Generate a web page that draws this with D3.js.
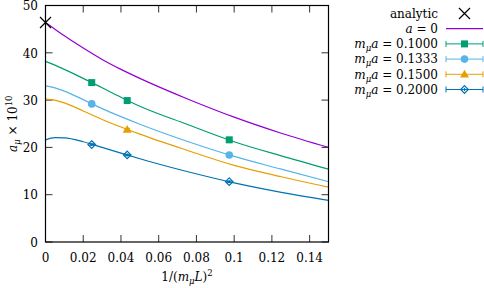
<!DOCTYPE html>
<html>
<head>
<meta charset="utf-8">
<script src="https://cdn.jsdelivr.net/npm/d3@7"></script>
<style>
  body { margin: 0; background: #fff; }
  text { font-family: "DejaVu Serif", "Liberation Serif", serif; }
</style>
</head>
<body>
<div id="chart"></div>
<script>
// curves, sampled along 1/(m_mu L)^2
const curveX = [0, 0.005, 0.01, 0.02, 0.03, 0.04, 0.05, 0.075, 0.1, 0.125, 0.15];
const a0 = [46.4, 45.0, 43.6, 41.0, 38.6, 36.5, 34.6, 30.3, 26.4, 23.0, 20.0];
const fit1000 = [38.2, 37.4, 36.5, 34.6, 32.6, 30.6, 28.7, 24.9, 21.2, 18.2, 15.4];
const fit1333 = [33.0, 32.6, 31.9, 30.1, 28.2, 26.5, 24.9, 21.3, 18.1, 15.4, 12.75];
const fit1500 = [30.2, 30.0, 29.4, 27.7, 25.9, 24.3, 22.8, 19.4, 16.2, 13.8, 11.6];
const fit2000 = [21.6, 22.05, 22.0, 21.2, 20.0, 18.8, 17.6, 14.9, 12.5, 10.5, 8.8];

// lattice points
const ptX = [0.0245, 0.0433, 0.0974];
const pt1000 = [33.7, 29.9, 21.6];
const pt1333 = [29.2, null, 18.4];
const pt1500 = [null, 23.8, null];
const pt2000 = [20.6, 18.4, 12.75];
const ptErr = [0.15, 0.15, 0.15];

const analytic = 46.4;
const xTicks = [0, 0.02, 0.04, 0.06, 0.08, 0.1, 0.12, 0.14];
const yTicks = [0, 10, 20, 30, 40, 50];
const labels = ["0.1000", "0.1333", "0.1500", "0.2000"];

const w = 484, h = 288;
const svg = d3.select("#chart").append("svg").attr("width", w).attr("height", h)
  .style("font-family", "'DejaVu Serif', 'Liberation Serif', serif").style("font-size", "12px");

const x = d3.scaleLinear().domain([0, 0.15]).range([45.5, 328.5]);
const y = d3.scaleLinear().domain([0, 50]).range([242, 5.5]);

const series = [
  { fit: fit1000, pts: pt1000, color: "#009e73", shape: "square" },
  { fit: fit1333, pts: pt1333, color: "#56b4e9", shape: "circle" },
  { fit: fit1500, pts: pt1500, color: "#e69f00", shape: "triangle" },
  { fit: fit2000, pts: pt2000, color: "#0072b2", shape: "diamond" }
];

svg.append("clipPath").attr("id", "clip").append("rect")
  .attr("x", x(0)).attr("y", y(50)).attr("width", x(0.15) - x(0)).attr("height", y(0) - y(50));

// ticks on all four sides, pointing inward
const tk = 7;
const tickG = svg.append("g").attr("stroke", "#333").attr("stroke-width", 1);
xTicks.forEach(v => {
  tickG.append("line").attr("x1", x(v)).attr("x2", x(v)).attr("y1", y(0)).attr("y2", y(0) - tk);
  tickG.append("line").attr("x1", x(v)).attr("x2", x(v)).attr("y1", y(50)).attr("y2", y(50) + tk);
});
yTicks.forEach(v => {
  tickG.append("line").attr("x1", x(0)).attr("x2", x(0) + tk).attr("y1", y(v)).attr("y2", y(v));
  tickG.append("line").attr("x1", x(0.15)).attr("x2", x(0.15) - tk).attr("y1", y(v)).attr("y2", y(v));
});

svg.selectAll(".xt").data(xTicks).enter().append("text")
  .attr("x", d => x(d)).attr("y", 262).attr("text-anchor", "middle")
  .text(d => d === 0 ? "0" : String(d));
svg.selectAll(".yt").data(yTicks).enter().append("text")
  .attr("x", 38).attr("y", d => y(d) + 0.5).attr("dy", "0.35em").attr("text-anchor", "end")
  .text(d => d);

const line = d3.line().x(d => x(d[0])).y(d => y(d[1])).curve(d3.curveMonotoneX);
const plot = svg.append("g").attr("clip-path", "url(#clip)");

plot.append("path").datum(curveX.map((v, i) => [v, a0[i]]))
  .attr("d", line).attr("fill", "none").attr("stroke", "#9400d3").attr("stroke-width", 1.2);

function marker(g, shape, color, cx, cy) {
  if (shape === "square") {
    g.append("rect").attr("x", cx - 3.5).attr("y", cy - 3.5).attr("width", 7).attr("height", 7).attr("fill", color);
  } else if (shape === "circle") {
    g.append("circle").attr("cx", cx).attr("cy", cy).attr("r", 3.8).attr("fill", color);
  } else if (shape === "triangle") {
    g.append("path").attr("d", `M${cx},${cy - 4.5}L${cx + 4.5},${cy + 3.2}L${cx - 4.5},${cy + 3.2}Z`).attr("fill", color);
  } else {
    g.append("path").attr("d", `M${cx},${cy - 3.8}L${cx + 3.8},${cy}L${cx},${cy + 3.8}L${cx - 3.8},${cy}Z`)
      .attr("fill", "none").attr("stroke", color).attr("stroke-width", 1.2);
    g.append("path").attr("d", `M${cx - 1.5},${cy}H${cx + 1.5}M${cx},${cy - 1.5}V${cy + 1.5}`)
      .attr("stroke", color).attr("stroke-width", 1);
  }
}

series.forEach(s => {
  plot.append("path").datum(curveX.map((v, i) => [v, s.fit[i]]))
    .attr("d", line).attr("fill", "none").attr("stroke", s.color).attr("stroke-width", 1.2);
  const g = svg.append("g");
  ptX.forEach((v, i) => {
    if (s.pts[i] == null) return;
    const cx = x(v), y1 = y(s.pts[i] - ptErr[i]), y2 = y(s.pts[i] + ptErr[i]);
    g.append("path").attr("d", `M${cx},${y1}V${y2}M${cx - 3},${y1}H${cx + 3}M${cx - 3},${y2}H${cx + 3}`)
      .attr("stroke", s.color).attr("stroke-width", 1);
    marker(g, s.shape, s.color, cx, y(s.pts[i]));
  });
});

// analytic cross
const ax = x(0), ay = y(analytic), cs = 5.5;
svg.append("path").attr("d", `M${ax - cs},${ay - cs}L${ax + cs},${ay + cs}M${ax - cs},${ay + cs}L${ax + cs},${ay - cs}`)
  .attr("stroke", "#000").attr("stroke-width", 1.2);

// frame
svg.append("rect").attr("x", x(0)).attr("y", y(50)).attr("width", x(0.15) - x(0)).attr("height", y(0) - y(50))
  .attr("fill", "none").attr("stroke", "#000").attr("stroke-width", 1.2);

// axis labels
const yl = svg.append("text").attr("transform", `translate(17,${(y(0) + y(50)) / 2}) rotate(-90)`).attr("text-anchor", "middle");
yl.append("tspan").attr("font-style", "italic").text("a");
yl.append("tspan").attr("font-style", "italic").attr("font-size", 8.5).attr("dy", 3).text("μ");
yl.append("tspan").attr("dy", -3).text(" × 10");
yl.append("tspan").attr("font-size", 8.5).attr("dy", -5).text("10");

const xl = svg.append("text").attr("x", (x(0) + x(0.15)) / 2).attr("y", 281).attr("text-anchor", "middle");
xl.append("tspan").text("1/(");
xl.append("tspan").attr("font-style", "italic").text("m");
xl.append("tspan").attr("font-style", "italic").attr("font-size", 8.5).attr("dy", 3).text("μ");
xl.append("tspan").attr("font-style", "italic").attr("dy", -3).text("L");
xl.append("tspan").text(")");
xl.append("tspan").attr("font-size", 8.5).attr("dy", -5).text("2");

// legend
const lx = 438, ls = 446, le = 483, lm = 464.5;
const row = i => 13.5 + i * 15.2;
svg.append("text").attr("x", lx).attr("y", row(0)).attr("dy", "0.35em").attr("text-anchor", "end").text("analytic");
svg.append("path").attr("d", `M${lm - cs},${row(0) - cs}L${lm + cs},${row(0) + cs}M${lm - cs},${row(0) + cs}L${lm + cs},${row(0) - cs}`)
  .attr("stroke", "#000").attr("stroke-width", 1.2);

const t1 = svg.append("text").attr("x", lx).attr("y", row(1)).attr("dy", "0.35em").attr("text-anchor", "end");
t1.append("tspan").attr("font-style", "italic").text("a");
t1.append("tspan").text(" = 0");
svg.append("line").attr("x1", ls).attr("x2", le).attr("y1", row(1)).attr("y2", row(1))
  .attr("stroke", "#9400d3").attr("stroke-width", 1.2);

series.forEach((s, i) => {
  const ry = row(i + 2);
  const t = svg.append("text").attr("x", lx).attr("y", ry).attr("dy", "0.35em").attr("text-anchor", "end");
  t.append("tspan").attr("font-style", "italic").text("m");
  t.append("tspan").attr("font-style", "italic").attr("font-size", 8.5).attr("dy", 3).text("μ");
  t.append("tspan").attr("font-style", "italic").attr("dy", -3).text("a");
  t.append("tspan").text(" = " + labels[i]);
  const g = svg.append("g");
  g.append("path").attr("d", `M${ls},${ry}H${le}M${ls},${ry - 3}V${ry + 3}M${le},${ry - 3}V${ry + 3}`)
    .attr("stroke", s.color).attr("stroke-width", 1);
  marker(g, s.shape, s.color, lm, ry);
});
</script>
</body>
</html>
